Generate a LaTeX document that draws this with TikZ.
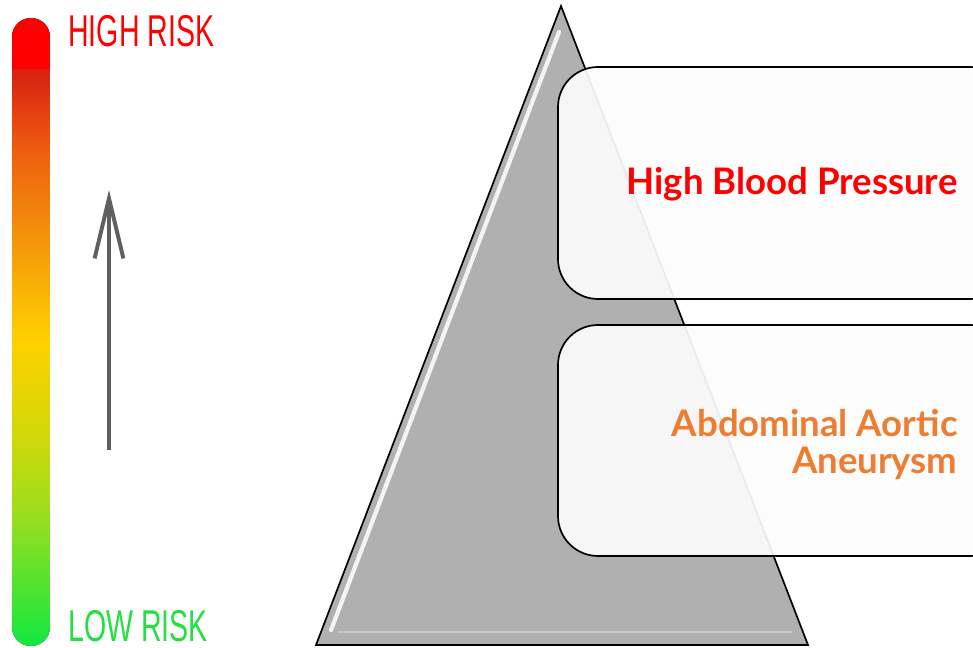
\documentclass[tikz,border=0pt]{standalone}
\usepackage{fontspec}
\newfontfamily\riskfont{Liberation Sans}
\newfontfamily\labelfont{Lato}
\usetikzlibrary{arrows.meta}
\definecolor{riskred}{HTML}{FF0000}
\definecolor{riskdark}{HTML}{D82010}
\definecolor{riskorange}{HTML}{EE5E10}
\definecolor{riskamber}{HTML}{F49C08}
\definecolor{riskyellow}{HTML}{FFD000}
\definecolor{risklime}{HTML}{D4D808}
\definecolor{riskgreen}{HTML}{96DE20}
\definecolor{riskbright}{HTML}{10E840}
\definecolor{lowgreen}{HTML}{22E040}
\definecolor{pyrgray}{HTML}{B0B0B0}
\definecolor{arrowgray}{HTML}{5F5F5F}
\definecolor{aaaorange}{HTML}{ED7D31}

\begin{document}
\begin{tikzpicture}[x=0.025cm, y=-0.025cm, thick]
    \tikzset{
        risklabel/.style={anchor=base west, font=\riskfont\fontsize{31.7}{36}\selectfont, xscale=0.64, inner sep=0pt},
        riskbox/.style={draw=black, line width=1.2pt, fill=gray!2, fill opacity=0.93, rounded corners=1cm},
        boxtext/.style={anchor=base east, align=right, inner sep=0pt, font=\labelfont\bfseries\fontsize{26}{26}\selectfont}
    }
    \clip (0,0) rectangle (973,648);

    % risk scale on the left
    \begin{scope}
        \clip[rounded corners=0.47cm] (12,18) rectangle (50,646);
        \foreach \ya/\yb/\ca/\cb in {18/70/riskred/riskred, 70/150/riskdark/riskorange,
            150/250/riskorange/riskamber, 250/340/riskamber/riskyellow,
            340/430/riskyellow/risklime, 430/520/risklime/riskgreen,
            520/646/riskgreen/riskbright}
            \fill[top color=\ca, bottom color=\cb, draw=none] (12,\ya) rectangle (50,\yb+1);
        \fill[riskred] (31,45) circle (19);
    \end{scope}
    \node[risklabel, text=riskred] (highrisk) at (68,47) {HIGH RISK};
    \node[risklabel, text=lowgreen] (lowrisk) at (68,641) {LOW RISK};

    \coordinate (arrowlow) at (109,450);
    \coordinate (arrowtop) at (109,190);
    \draw[arrowgray, line width=2.8pt, -{Straight Barb[length=1.5cm, width=0.72cm, line width=2.8pt]}]
        (arrowlow) -- (arrowtop);

    % pyramid
    \coordinate (apex) at (561,6);
    \coordinate (baseL) at (316,645);
    \coordinate (baseR) at (808,645);
    \draw[fill=pyrgray, line width=1.2pt, line join=miter] (apex) -- (baseL) -- (baseR) -- cycle;
    \draw[white, line width=3pt, opacity=0.85, line cap=round] (559,32) -- (331,630);
    \draw[white, line width=1pt, opacity=0.3] (338,632) -- (792,632);

    % boxes
    \draw[riskbox] (558,67) rectangle (1010,299);
    \draw[riskbox] (558,325) rectangle (1010,556);
    \node[boxtext, text=riskred] (hbp) at (958,195) {High Blood Pressure};
    \node[boxtext, text=aaaorange, anchor=north east] (aaa) at (958,409) {Abdominal Aortic\\Aneurysm};
\end{tikzpicture}
\end{document}
